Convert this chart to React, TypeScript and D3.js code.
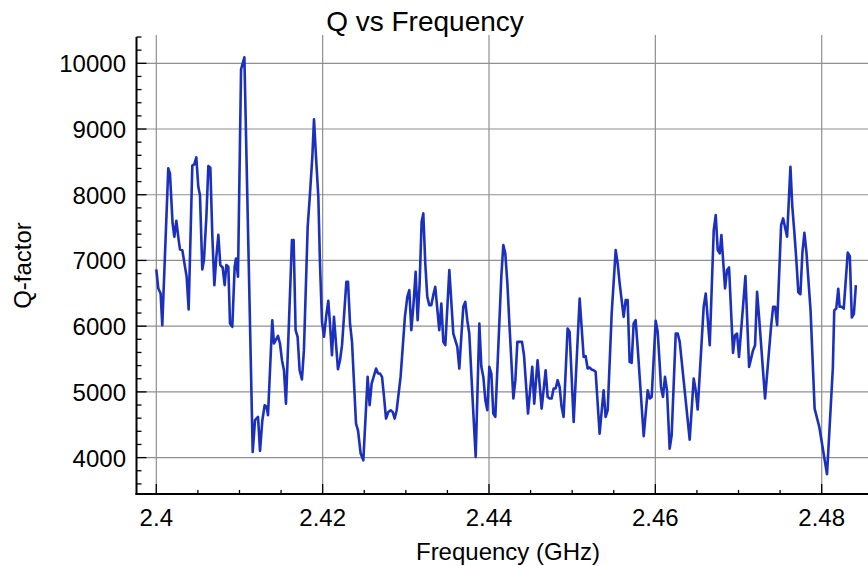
import React from "react";
import * as d3 from "d3";

const frequencyGHz: number[] = [
  2.40000, 2.40024, 2.40052, 2.40072, 2.40144, 2.40164, 2.40196, 2.40217, 2.40241, 2.40269,
  2.40285, 2.40313, 2.40345, 2.40365, 2.40389, 2.40433, 2.40457, 2.40481, 2.40505, 2.40525,
  2.40553, 2.40573, 2.40602, 2.40626, 2.40650, 2.40674, 2.40698, 2.40722, 2.40746, 2.40770,
  2.40798, 2.40822, 2.40842, 2.40866, 2.40886, 2.40914, 2.40942, 2.40958, 2.40982, 2.41019,
  2.41059, 2.41159, 2.41187, 2.41223, 2.41247, 2.41275, 2.41303, 2.41327, 2.41343,
  2.41394, 2.41415, 2.41463, 2.41487, 2.41511, 2.41535, 2.41559, 2.41631, 2.41651, 2.41675,
  2.41699, 2.41723, 2.41751, 2.41775, 2.41820, 2.41848, 2.41876, 2.41896, 2.41920, 2.41948,
  2.41968, 2.41992, 2.42016, 2.42044, 2.42068, 2.42088, 2.42112, 2.42136, 2.42184, 2.42209,
  2.42233, 2.42285, 2.42305, 2.42329, 2.42353, 2.42401, 2.42425, 2.42457, 2.42489, 2.42541,
  2.42565, 2.42589, 2.42642, 2.42666, 2.42690, 2.42714, 2.42738, 2.42762, 2.42790, 2.42818,
  2.42842, 2.42866, 2.42890,
  2.42937, 2.42989, 2.43018, 2.43042, 2.43066, 2.43090, 2.43118, 2.43142, 2.43166, 2.43190,
  2.43210, 2.43234, 2.43258, 2.43282, 2.43306, 2.43330, 2.43354, 2.43402, 2.43427, 2.43451,
  2.43475, 2.43523, 2.43571, 2.43595, 2.43619, 2.43643, 2.43667, 2.43691, 2.43715, 2.43739,
  2.43763, 2.43812, 2.43840, 2.43884, 2.43908, 2.43932, 2.43956, 2.43980, 2.44004, 2.44028,
  2.44052, 2.44076, 2.44124, 2.44148, 2.44172, 2.44196, 2.44221, 2.44245, 2.44293, 2.44317,
  2.44341, 2.44373, 2.44397, 2.44421, 2.44469,
  2.44520, 2.44544, 2.44584, 2.44633, 2.44681, 2.44705, 2.44729, 2.44753, 2.44777, 2.44801,
  2.44825, 2.44849, 2.44873, 2.44897, 2.44945, 2.44969, 2.45018, 2.45090, 2.45138, 2.45162,
  2.45186, 2.45210, 2.45234, 2.45258, 2.45282, 2.45330, 2.45378, 2.45402, 2.45427, 2.45475,
  2.45523, 2.45547, 2.45571, 2.45619, 2.45643, 2.45667, 2.45691, 2.45715, 2.45739, 2.45763,
  2.45787, 2.45860, 2.45908, 2.45932, 2.45956, 2.46004, 2.46028,
  2.46052, 2.46068, 2.46092, 2.46116, 2.46140, 2.46172, 2.46196, 2.46245, 2.46269, 2.46293,
  2.46413, 2.46461, 2.46485, 2.46509, 2.46581, 2.46606, 2.46654, 2.46702, 2.46726, 2.46750,
  2.46774, 2.46794, 2.46838, 2.46862, 2.46886, 2.46934, 2.46958, 2.46982, 2.47006, 2.47083,
  2.47127, 2.47175, 2.47199, 2.47223, 2.47247, 2.47319, 2.47391, 2.47416, 2.47440, 2.47464,
  2.47512, 2.47536, 2.47584, 2.47624,
  2.47646, 2.47670, 2.47695, 2.47719, 2.47744, 2.47768, 2.47792, 2.47817, 2.47866, 2.47915,
  2.47971, 2.48064, 2.48134, 2.48151, 2.48175, 2.48199, 2.48216, 2.48240, 2.48265, 2.48313,
  2.48338, 2.48362, 2.48387, 2.48411,
];

const qFactor: number[] = [
  6863, 6574, 6497, 6015, 8401, 8325, 7563, 7360, 7604, 7310,
  7168, 7157, 6904, 6751, 6254, 8442, 8462, 8569, 8122, 7995,
  6863, 7005, 7665, 8437, 8411, 7360, 6624, 7056, 7391, 6929,
  6893, 6624, 6929, 6904, 6041, 5990, 6904, 7030, 6751, 9909,
  10091, 4086, 4569, 4619, 4102, 4569, 4797, 4772, 4645,
  6091, 5736, 5853, 5736, 5482, 5330, 4822, 7310, 7310, 5939,
  5838, 5330, 5188, 5635, 7513, 8020, 8579, 9147, 8579, 7970,
  6954, 6066, 5838, 6168, 6386, 6041, 5558, 6142, 5345, 5482,
  5711, 6675, 6675, 6041, 5761, 4518, 4416, 4061, 3959, 5228,
  4797, 5127, 5355, 5279, 5279, 5228, 4924, 4594, 4695, 4721,
  4695, 4594, 4721,
  5228, 6142, 6447, 6548, 5939, 6294, 6827, 6091, 6650, 7589,
  7716, 6954, 6447, 6320, 6320, 6472, 6599, 5939, 6345, 5761,
  5711, 6853, 5888, 5787, 5685, 5355, 5838, 6294, 6371, 6091,
  5888, 4670, 4010, 6041, 5381, 5228, 4873, 4721, 5381, 5279,
  4670, 4619, 6041, 6751, 7234, 7107, 6650, 6041, 4899, 5178,
  5761, 5761, 5761, 5558, 4670,
  5381, 4822, 5482, 4746, 5330, 4924, 4899, 4899, 5051, 5051,
  5178, 5076, 4772, 4619, 5964, 5914, 4543, 6421, 5533, 5543,
  5355, 5371, 5340, 5330, 5305, 4365, 5025, 4619, 4721, 6193,
  7157, 6954, 6650, 6142, 6396, 6396, 5457, 5442, 6041, 6091,
  5685, 4325, 5025, 4899, 4924, 6081, 5914,
  5431, 5076, 4924, 5228, 5025, 4137, 4340, 5888, 5888, 5761,
  4274, 5203, 5025, 4731, 6294, 6497, 5711, 7462, 7690, 7157,
  7107, 7386, 6574, 6853, 6893, 5594, 5863, 5888, 5533, 6761,
  5381, 5635, 5711, 6523, 6142, 4899, 5990, 6294, 6294, 6015,
  7538, 7640, 7360, 8426,
  7832, 7448, 7009, 6515, 6487, 7119, 7420, 7119, 6240, 4746,
  4466, 3746, 5362, 6240, 6268, 6570, 6295, 6295, 6268, 7119,
  7064, 6131, 6186, 6625,
];

const xMajorTicks: number[] = [2.4, 2.42, 2.44, 2.46, 2.48];
const xTickLabels: string[] = ["2.4", "2.42", "2.44", "2.46", "2.48"];
const yMajorTicks: number[] = [4000, 5000, 6000, 7000, 8000, 9000, 10000];
const yTickLabels: string[] = ["4000", "5000", "6000", "7000", "8000", "9000", "10000"];

const W = 868;
const H = 566;
const FONT = "'Liberation Sans', Arial, Helvetica, sans-serif";

export default function App() {
  const x = d3.scaleLinear().domain([2.4, 2.48]).range([156.3, 821.7]);
  const y = d3.scaleLinear().domain([4000, 10000]).range([457.6, 63.3]);

  const left = 136.5;
  const bottom = 494;
  const top = 37;
  const right = W;

  const xMinor = d3.range(0, 17).map((i) => 2.4 + i * 0.005).filter((v) => x(v) < right - 4);
  const yMinor = d3.range(0, 36).map((i) => 3600 + i * 200).filter((v) => y(v) < bottom - 2 && y(v) > top);

  const points = frequencyGHz.map((f, i) => [f, qFactor[i]] as [number, number]);
  const line = d3
    .line<[number, number]>()
    .x((d) => x(d[0]))
    .y((d) => y(d[1]));

  const gridColor = "#8f8f8f";

  return (
    <svg
      width={W}
      height={H}
      style={{ position: "absolute", left: 0, top: 0, background: "#fff" }}
      fontFamily={FONT}
    >
      <rect x={0} y={0} width={W} height={H} fill="#fff" />
      {/* grid */}
      {xMajorTicks.map((t) => (
        <line key={"gx" + t} x1={x(t)} x2={x(t)} y1={35} y2={bottom} stroke={gridColor} strokeWidth={1.2} />
      ))}
      {yMajorTicks.map((t) => (
        <line key={"gy" + t} x1={left} x2={right} y1={y(t)} y2={y(t)} stroke={gridColor} strokeWidth={1.2} />
      ))}
      {/* data line */}
      <path d={line(points) || ""} fill="none" stroke="#1c30be" strokeWidth={2.6} strokeLinejoin="round" />
      {/* axes */}
      <line x1={left} x2={left} y1={top} y2={bottom + 1} stroke="#000" strokeWidth={2} />
      <line x1={left - 1} x2={right} y1={bottom} y2={bottom} stroke="#000" strokeWidth={2} />
      {xMinor.map((t, i) => {
        const major = i % 4 === 0;
        return (
          <line key={"tx" + i} x1={x(t)} x2={x(t)} y1={bottom} y2={bottom - (major ? 10 : 4)} stroke="#000" strokeWidth={1.3} />
        );
      })}
      {yMinor.map((t, i) => {
        const major = t % 1000 === 0;
        return (
          <line key={"ty" + i} x1={left} x2={left + (major ? 10 : 5)} y1={y(t)} y2={y(t)} stroke="#000" strokeWidth={1.3} />
        );
      })}
      {/* tick labels */}
      {xMajorTicks.map((t, i) => (
        <text key={"lx" + t} x={x(t)} y={526} textAnchor="middle" fontSize={24} fill="#000">
          {xTickLabels[i]}
        </text>
      ))}
      {yMajorTicks.map((t, i) => (
        <text key={"ly" + t} x={126} y={y(t) + 9} textAnchor="end" fontSize={24} fill="#000">
          {yTickLabels[i]}
        </text>
      ))}
      {/* titles */}
      <text x={425} y={31} textAnchor="middle" fontSize={28} fill="#000">
        Q vs Frequency
      </text>
      <text x={508} y={560} textAnchor="middle" fontSize={24} fill="#000">
        Frequency (GHz)
      </text>
      <text transform="translate(31,265.5) rotate(-90)" textAnchor="middle" fontSize={24} fill="#000">
        Q-factor
      </text>
    </svg>
  );
}
